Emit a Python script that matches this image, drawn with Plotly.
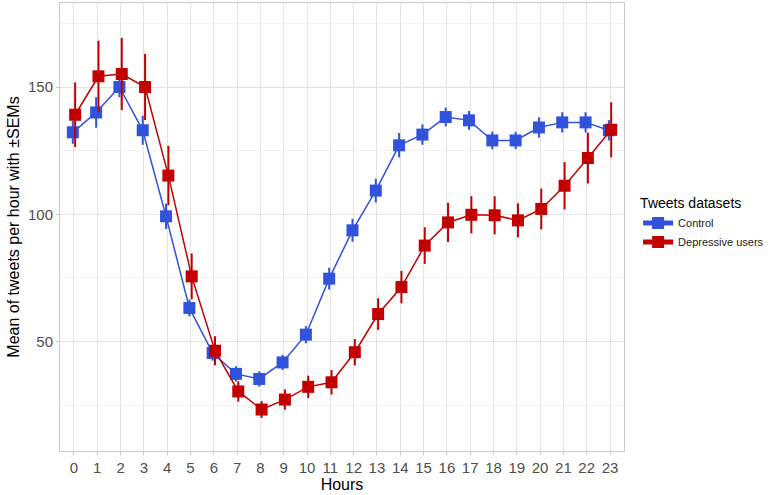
import plotly.graph_objects as go

hours = list(range(24))
control_mean = [132.2, 140.0, 150.0, 133.0, 99.2, 63.2, 45.5, 37.3, 35.3, 41.8, 52.7, 74.7,
                93.7, 109.3, 127.1, 131.3, 138.2, 136.9, 129.0, 129.0, 134.1, 136.1, 136.1, 133.0]
control_sem = [4.5, 6.0, 4.0, 5.7, 5.0, 3.3, 3.0, 3.0, 3.0, 3.0, 3.4, 4.3,
               4.5, 4.7, 4.8, 4.0, 3.7, 3.7, 3.5, 3.4, 4.0, 4.0, 4.0, 4.0]
depressed_mean = [139.1, 154.2, 155.1, 150.0, 115.2, 75.6, 46.4, 30.4, 23.3, 27.2, 32.2, 34.0,
                  45.8, 60.8, 71.4, 87.7, 96.8, 99.8, 99.6, 97.6, 102.1, 111.2, 122.1, 133.2]
depressed_sem = [12.7, 14.0, 14.2, 13.0, 11.7, 9.0, 5.7, 4.0, 3.3, 4.0, 4.4, 4.8,
                 5.2, 6.2, 6.4, 7.2, 7.7, 7.3, 7.5, 6.7, 8.0, 9.3, 10.0, 10.8]
tick_labels = [str(h) for h in hours]

BLUE = "#3152DB"
RED = "#C20000"
dodge = 0.05

fig = go.Figure()
fig.add_trace(go.Scatter(
    x=[h - dodge for h in hours], y=control_mean, name="Control",
    mode="lines+markers",
    line=dict(color=BLUE, width=1.5),
    marker=dict(symbol="square", size=12, color=BLUE),
    error_y=dict(type="data", array=control_sem, color=BLUE, thickness=2, width=0),
))
fig.add_trace(go.Scatter(
    x=[h + dodge for h in hours], y=depressed_mean, name="Depressive users",
    mode="lines+markers",
    line=dict(color=RED, width=1.5),
    marker=dict(symbol="square", size=12, color=RED),
    error_y=dict(type="data", array=depressed_sem, color=RED, thickness=2, width=0),
))

fig.update_layout(
    width=782, height=495,
    margin=dict(l=60, r=158, t=3, b=44, autoexpand=False),
    paper_bgcolor="white", plot_bgcolor="white",
    font=dict(family="Arial, Liberation Sans, sans-serif", color="#000000"),
    legend=dict(
        title=dict(text="Tweets datasets", font=dict(size=14, color="#000000")),
        font=dict(size=11, color="#1A1A1A"),
        x=1.025, y=0.582, xanchor="left", yanchor="top",
        bgcolor="rgba(0,0,0,0)", itemsizing="constant", tracegroupgap=2,
    ),
    showlegend=True,
)
fig.update_xaxes(
    range=[-0.6, 23.6], tickmode="array", tickvals=hours, ticktext=tick_labels,
    automargin=False,
    showgrid=True, gridcolor="#E3E3E3", gridwidth=1,
    showline=True, linecolor="#C8C8C8", linewidth=1, mirror=True,
    ticks="outside", ticklen=3, tickcolor="#C8C8C8",
    tickfont=dict(size=15, color="#4D4D4D"),
    title=dict(text="Hours", font=dict(size=16, color="#000000"), standoff=1),
    zeroline=False,
)
fig.update_yaxes(
    range=[7, 183], tickmode="array", tickvals=[50, 100, 150], ticktext=["50", "100", "150"],
    automargin=False,
    showgrid=True, gridcolor="#E3E3E3", gridwidth=1,
    minor=dict(tickmode="array", tickvals=[25, 75, 125, 175], showgrid=True, gridcolor="#F2F2F2", gridwidth=1),
    showline=True, linecolor="#C8C8C8", linewidth=1, mirror=True,
    ticks="outside", ticklen=3, tickcolor="#C8C8C8",
    tickfont=dict(size=15, color="#4D4D4D"),
    title=dict(text="Mean of tweets per hour with ±SEMs", font=dict(size=16, color="#000000"), standoff=4),
    zeroline=False,
)

fig.write_html(
    "out.html",
    config={"displayModeBar": False},
    post_script="document.body.style.margin='0';document.body.style.padding='0';",
)
